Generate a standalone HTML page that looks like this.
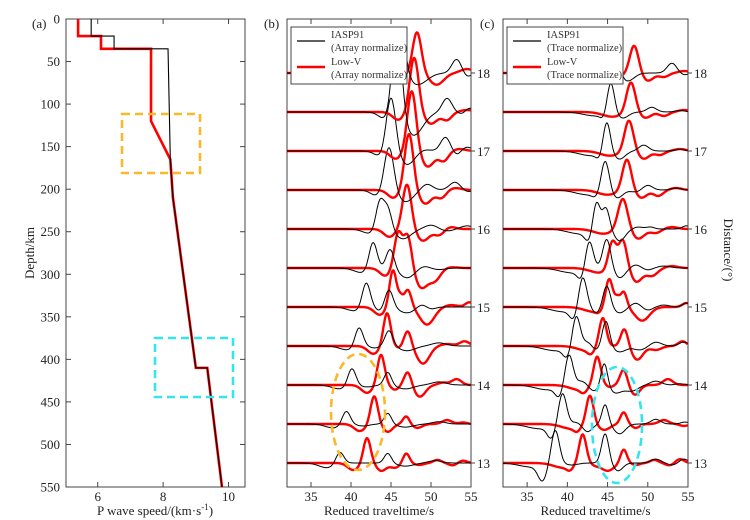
<!DOCTYPE html>
<html><head><meta charset="utf-8"><style>
html,body{margin:0;padding:0;background:#fff;}
svg{display:block;font-family:"Liberation Serif",serif;}
</style></head>
<body>
<svg id="fig" width="750" height="520" viewBox="0 0 750 520">
<rect width="750" height="520" fill="#fff"/>
<defs>
<clipPath id="clipB"><rect x="287" y="19" width="184" height="468"/></clipPath>
<clipPath id="clipC"><rect x="503" y="19" width="185" height="468"/></clipPath>
<clipPath id="clipA"><rect x="66" y="19" width="179" height="468"/></clipPath>
</defs>
<g id="panelA"></g>
<g id="panelB"></g>
<g id="panelC"></g>
</svg>
<script>
// ---- Panel (a) velocity model data ----
const iaspDepth = [0,20,20,35,35,165,210,410,410,550];
const iaspSpeed = [5.8,5.8,6.5,6.5,8.15,8.22,8.3,9.0,9.35,9.8];
const lowvDepth = [0,20,20,35,35,120,165,210,410,410,550];
const lowvSpeed = [5.4,5.4,6.1,6.1,7.63,7.63,8.22,8.3,9.0,9.35,9.8];
const depthTicks = [0,50,100,150,200,250,300,350,400,450,500,550];
const speedTicks = [6,8,10];

// ---- Waveform panels data: [time, amplitude, width] pulses ----
const distances = [13,13.5,14,14.5,15,15.5,16,16.5,17,17.5,18];
const distLabels = [13,14,15,16,17,18];
const timeTicks = [35,40,45,50,55];
const bBlack = [
 [[37,-0.12,1.0],[38.6,0.3,0.5],[44.6,0.25,0.45],[46.8,-0.08,1.0],[50.5,0.06,0.8]],
 [[37.8,-0.1,1.0],[39.4,0.35,0.5],[41.5,-0.05,0.8],[44.6,0.28,0.45],[46.8,-0.08,1.0],[51,0.06,0.8]],
 [[38.6,-0.1,1.0],[40.1,0.45,0.5],[42,-0.05,0.8],[44.6,0.33,0.45],[46.8,-0.1,1.0],[51,0.08,0.9]],
 [[39.6,-0.1,1.0],[41.0,0.5,0.5],[43,-0.05,0.6],[44.75,0.4,0.5],[47,-0.12,1.0],[51,0.08,0.9]],
 [[40.5,-0.1,1.0],[41.9,0.65,0.5],[43.6,-0.1,0.5],[44.75,0.45,0.5],[47,-0.15,1.0],[48.8,0.08,0.6],[50,-0.05,0.6]],
 [[41.4,-0.12,1.0],[42.75,0.7,0.5],[44.9,0.5,0.5],[47,-0.25,1.0],[49,0.06,0.7],[51,-0.04,0.8]],
 [[42.5,-0.12,1.0],[43.6,0.75,0.5],[44.6,0.55,0.5],[46.5,-0.25,1.0],[50,0.1,0.8],[52,-0.05,0.8],[54.5,0.08,0.8]],
 [[43.3,-0.15,0.8],[44.75,1.15,0.6],[46.8,-0.3,1.0],[49.5,0.15,0.7],[53,0.2,0.7],[54.5,-0.05,0.6]],
 [[43.8,-0.15,0.8],[45.0,1.45,0.6],[47,-0.35,1.0],[49,0.05,0.8],[51.8,0.35,0.6],[53.2,-0.1,0.5],[54.5,0.1,0.6]],
 [[44.3,-0.18,0.8],[45.75,2.3,0.6],[47.8,-0.6,1.2],[52,0.35,0.6],[53.8,-0.05,0.5],[54.8,0.1,0.5]],
 [[44.8,-0.15,0.8],[46.2,1.2,0.6],[48.3,-0.3,1.2],[53.2,0.35,0.6],[54.5,-0.1,0.5]]
];
const bRed = [
 [[40.3,-0.18,0.7],[42.0,0.65,0.45],[43.8,-0.2,0.6],[45.5,-0.12,0.6],[46.9,0.25,0.4],[48.5,-0.05,0.6],[50.8,0.08,0.5],[52.7,-0.06,0.5],[54,0.06,0.5]],
 [[41.1,-0.18,0.7],[42.9,0.72,0.45],[44.6,-0.2,0.6],[46.9,0.2,0.4],[48.3,-0.1,0.6],[52,0.1,0.6],[54,0.04,0.5]],
 [[42,-0.2,0.7],[43.75,0.78,0.45],[45.5,-0.12,0.5],[47.1,0.35,0.45],[48.6,-0.3,0.7],[51.5,0.06,0.6],[53.2,0.15,0.6]],
 [[42.8,-0.2,0.7],[44.5,0.85,0.45],[46,-0.05,0.4],[47.1,0.4,0.45],[49,-0.45,0.8],[52,0.05,0.8],[54.2,0.12,0.6]],
 [[43.6,-0.2,0.7],[45.25,0.95,0.45],[46.2,0.2,0.3],[47.1,0.45,0.45],[49.5,-0.45,0.9],[52.5,0.05,0.8],[54.8,0.12,0.5]],
 [[44.3,-0.2,0.7],[45.9,0.9,0.5],[47.1,0.85,0.5],[48.8,-0.5,0.8],[50.5,-0.3,0.7],[52.5,0.02,0.8]],
 [[44.8,-0.2,0.7],[47.0,1.15,0.55],[49,-0.3,0.8],[51,-0.15,0.6],[52.5,0.05,0.6]],
 [[45.3,-0.2,0.7],[47.25,1.45,0.55],[49.3,-0.35,0.8],[51.3,-0.2,0.6],[53,0.05,0.8]],
 [[45.6,-0.2,0.7],[47.6,1.55,0.55],[49.6,-0.4,0.8],[51.6,-0.25,0.6],[53.5,0.05,0.8]],
 [[45.9,-0.2,0.7],[47.9,1.4,0.55],[50,-0.3,0.8],[52,-0.2,0.6],[54.5,0.05,0.8]],
 [[46.3,-0.12,0.7],[48.25,1.05,0.55],[50.7,-0.3,0.9],[54.5,0.1,0.8]]
];
const cBlack = [
 [[35.5,-0.1,1.5],[36.9,-0.4,0.55],[38.5,0.85,0.5],[40.5,-0.05,0.8],[44.7,0.75,0.45],[46.3,-0.2,0.6],[51,0.1,0.6],[53,-0.05,0.5],[54.5,0.1,0.5]],
 [[36.5,-0.12,1.5],[38,-0.3,0.5],[39.4,0.8,0.5],[41.2,0.05,0.6],[42.5,-0.2,0.6],[44.7,0.5,0.4],[46.5,-0.25,0.7],[51,0.12,0.6],[54.6,0.05,0.5]],
 [[37.5,-0.12,1.5],[39,-0.25,0.5],[40.2,0.8,0.5],[41.8,0.1,0.6],[43.3,-0.15,0.6],[44.6,0.6,0.4],[46,-0.2,0.8],[48,-0.15,0.8],[51,0.1,0.7],[54,0.03,0.6]],
 [[38.5,-0.12,1.5],[40,-0.25,0.5],[41.1,0.8,0.5],[42.5,0.1,0.5],[43.6,-0.1,0.5],[44.8,0.65,0.45],[46.5,-0.15,0.8],[49,-0.1,0.8],[51,0.1,0.7],[54.5,0.1,0.6]],
 [[39.5,-0.12,1.5],[40.8,-0.25,0.5],[41.9,0.8,0.5],[43.6,-0.15,0.5],[44.9,0.55,0.45],[46.5,-0.15,0.7],[48.5,0.1,0.6],[50,-0.08,0.6],[52,0.05,0.7],[54.8,0.1,0.5]],
 [[40.5,-0.12,1.5],[41.8,-0.25,0.5],[42.7,0.75,0.5],[44.9,0.75,0.5],[46.5,-0.25,0.7],[48.5,0.08,0.6],[50,-0.05,0.6],[52,0.05,0.8]],
 [[41.5,-0.12,1.5],[42.7,-0.25,0.5],[43.6,0.75,0.45],[44.8,0.55,0.45],[46.5,-0.3,0.7],[48.8,0.05,0.6],[50.3,0.05,0.5],[54.8,0.08,0.5]],
 [[42.5,-0.12,1.5],[43.6,-0.1,0.5],[44.7,0.8,0.5],[46.2,-0.2,0.7],[48.5,-0.05,0.6],[50,0.12,0.6],[53.5,0.05,0.6]],
 [[43,-0.12,1.5],[44.0,-0.12,0.4],[44.9,0.8,0.45],[46.5,-0.2,0.7],[49.5,0.15,0.6],[54,0.04,0.6]],
 [[43.5,-0.1,1.5],[44.5,-0.1,0.4],[45.4,0.8,0.45],[46.9,-0.15,0.7],[50.5,0.12,0.6],[54,0.04,0.6]],
 [[44,-0.1,1.5],[46.0,0.8,0.45],[47.5,-0.2,0.8],[53,0.25,0.6],[54.5,-0.05,0.5]]
];
const cRed = [
 [[39.5,-0.12,1.2],[40.3,-0.1,0.4],[41.9,0.75,0.45],[43.4,-0.05,0.5],[45,-0.2,0.8],[47.0,0.35,0.4],[48.5,-0.05,0.5],[50.8,0.08,0.5],[52.7,-0.06,0.5],[54,0.1,0.5]],
 [[40.5,-0.12,1.2],[41.2,-0.1,0.4],[42.8,0.75,0.45],[44.6,-0.15,0.7],[47.0,0.3,0.4],[48.5,-0.1,0.5],[52,0.1,0.6],[54.5,-0.05,0.5]],
 [[41.5,-0.12,1.2],[42,-0.1,0.4],[43.7,0.75,0.45],[45.3,-0.05,0.4],[47.0,0.4,0.45],[48.4,-0.25,0.6],[52.5,0.15,0.6]],
 [[42.5,-0.12,1.2],[42.9,-0.1,0.4],[44.4,0.75,0.45],[45.9,0.0,0.4],[47.1,0.45,0.45],[48.7,-0.35,0.7],[51,-0.1,0.7],[54.3,0.12,0.5]],
 [[43.3,-0.12,1.2],[43.9,-0.05,0.4],[45.2,0.75,0.45],[46.2,0.2,0.3],[47.0,0.4,0.4],[49.3,-0.35,0.9],[54.8,0.1,0.5]],
 [[44,-0.12,1.2],[45.6,0.72,0.5],[46.9,0.72,0.5],[48.6,-0.35,0.7],[50.5,-0.2,0.7],[53,0.05,0.7]],
 [[44.5,-0.12,1.2],[46.9,0.8,0.6],[48.8,-0.25,0.8],[51,-0.1,0.6],[53,0.05,0.7]],
 [[45,-0.12,1.2],[47.4,0.8,0.55],[49.2,-0.2,0.7],[51.3,-0.15,0.6],[53.5,0.05,0.7]],
 [[45.3,-0.12,1.2],[47.65,0.8,0.55],[49.5,-0.2,0.7],[51.5,-0.1,0.6],[54,0.05,0.7]],
 [[45.6,-0.12,1.2],[47.9,0.78,0.55],[49.7,-0.15,0.7],[52,-0.1,0.6],[54.5,0.05,0.7]],
 [[45.9,-0.1,1.2],[48.3,0.72,0.55],[50,-0.2,0.7],[52,-0.1,0.6],[54.5,0.05,0.7]]
];

const NS='http://www.w3.org/2000/svg';
function mk(tag, attrs, parent, text){
  const e=document.createElementNS(NS,tag);
  for(const k in attrs) e.setAttribute(k, attrs[k]);
  if(text!==undefined) e.textContent=text;
  parent.appendChild(e); return e;
}
const AX='#444';

// ---------- Panel A ----------
(function(){
  const g=document.getElementById('panelA');
  const x0=66,x1=245,y0=19,y1=487;
  const sx=v=>x0+(v-5.03)*32.7;
  const sy=d=>y0+d*(y1-y0)/550;
  const frame=mk('rect',{x:x0,y:y0,width:x1-x0,height:y1-y0,fill:'none',stroke:AX,'stroke-width':1},g);
  
  
  depthTicks.forEach(d=>{
    const y=sy(d);
    mk('line',{x1:x0,y1:y,x2:x0+5,y2:y,stroke:AX},g);
    mk('line',{x1:x1,y1:y,x2:x1-5,y2:y,stroke:AX},g);
    const t=mk('text',{x:x0-6,y:y+4.5,'text-anchor':'end','font-size':13,fill:'#222'},g,String(d));
    
    
  });
  speedTicks.forEach(v=>{
    const x=sx(v);
    mk('line',{x1:x,y1:y1,x2:x,y2:y1-5,stroke:AX},g);
    mk('line',{x1:x,y1:y0,x2:x,y2:y0+5,stroke:AX},g);
    const t=mk('text',{x:x,y:y1+14,'text-anchor':'middle','font-size':13,fill:'#222'},g,String(v));
    
    
  });
  const cg=mk('g',{'clip-path':'url(#clipA)'},g);
  const pr=mk('polyline',{points:lowvDepth.map((d,i)=>sx(lowvSpeed[i])+','+sy(d)).join(' '),fill:'none',stroke:'#f00','stroke-width':2.6},cg);
  
  
  const pb=mk('polyline',{points:iaspDepth.map((d,i)=>sx(iaspSpeed[i])+','+sy(d)).join(' '),fill:'none',stroke:'#000','stroke-width':1.1},cg);
  
  
  const ob=mk('rect',{x:122,y:114,width:78,height:59,fill:'none',stroke:'#fbb829','stroke-width':2.6,'stroke-dasharray':'8,5'},g);
  
  
  const cb=mk('rect',{x:155,y:338,width:78,height:59,fill:'none',stroke:'#33e6ee','stroke-width':2.6,'stroke-dasharray':'8,5'},g);
  
  
  const pl=mk('text',{x:32,y:28,'font-size':13,fill:'#222'},g,'(a)');
  
  
  const yl=mk('text',{x:0,y:0,transform:'translate(34,253) rotate(-90)','text-anchor':'middle','font-size':13,fill:'#222'},g,'Depth/km');
  
  
  const xl=mk('text',{x:155,y:515,'text-anchor':'middle','font-size':13,fill:'#222'},g);
  xl.innerHTML='P wave speed/(km·s<tspan dy="-5" font-size="9">-1</tspan><tspan dy="5">)</tspan>';
  
  
})();

// ---------- Waveform panels ----------
function wavePanel(gid, x0, x1, black, red, normText, label, clip, ell){
  const g=document.getElementById(gid);
  const y0=19,y1=487,A=39;
  const sx=t=>x0+(t-32)*(x1-x0)/23;
  const by=d=>463-(d-13)*78;
  const frame=mk('rect',{x:x0,y:y0,width:x1-x0,height:y1-y0,fill:'none',stroke:AX},g);
  
  
  timeTicks.forEach(t=>{
    const x=sx(t);
    mk('line',{x1:x,y1:y1,x2:x,y2:y1-5,stroke:AX},g);
    mk('line',{x1:x,y1:y0,x2:x,y2:y0+5,stroke:AX},g);
    const tl=mk('text',{x:x,y:y1+14,'text-anchor':'middle','font-size':13,fill:'#222'},g,String(t));
    
    
  });
  distLabels.forEach(d=>{
    const y=by(d);
    mk('line',{x1:x1,y1:y,x2:x1+4,y2:y,stroke:AX},g);
    const tl=mk('text',{x:x1+6,y:y+5,'font-size':13,fill:'#222'},g,String(d));
    
    
  });
  const cg=mk('g',{'clip-path':'url(#'+clip+')'},g);
  function trace(pulses,d,col,w,name){
    const pts=[];
    for(let t=32;t<=55.01;t+=0.08){
      let v=0;
      pulses.forEach(p=>{const z=(t-p[0])/p[2]; v+=p[1]*Math.exp(-0.5*z*z);});
      pts.push(sx(t).toFixed(1)+','+(by(d)-A*v).toFixed(1));
    }
    const pl=mk('polyline',{points:pts.join(' '),fill:'none',stroke:col,'stroke-width':w,'stroke-linejoin':'round'},cg);
    
    
  }
  distances.forEach((d,i)=>{
    trace(red[i],d,'#f00',2.4,'low-v-trace');
    trace(black[i],d,'#000',1,'iasp91-trace');
  });
  const el=mk('ellipse',{cx:ell[0],cy:ell[1],rx:ell[2],ry:ell[3],fill:'none',stroke:ell[4],'stroke-width':2.6,'stroke-dasharray':'8,5'},g);
  
  
  // legend
  const lg=mk('g',{},g);
  
  
  const lx=x0+4;
  mk('rect',{x:lx,y:27,width:116,height:57,fill:'#fff',stroke:AX},lg);
  mk('line',{x1:lx+6,y1:41,x2:lx+34,y2:41,stroke:'#000','stroke-width':1.2},lg);
  mk('line',{x1:lx+6,y1:67,x2:lx+34,y2:67,stroke:'#f00','stroke-width':2.6},lg);
  const t1=mk('text',{x:lx+40,y:38,'font-size':10.5,fill:'#333'},lg,'IASP91');
  
  
  mk('text',{x:lx+40,y:51,'font-size':10.5,fill:'#333'},lg,normText);
  const t2=mk('text',{x:lx+40,y:65,'font-size':10.5,fill:'#333'},lg,'Low-V');
  
  
  mk('text',{x:lx+40,y:78,'font-size':10.5,fill:'#333'},lg,normText);
  const pl=mk('text',{x:x0-23,y:28,'font-size':13,fill:'#222'},g,label);
  
  
  const xt=mk('text',{x:(x0+x1)/2,y:515,'text-anchor':'middle','font-size':13,fill:'#222'},g,'Reduced traveltime/s');
  
  
}
wavePanel('panelB',287,471,bBlack,bRed,'(Array normalize)','(b)','clipB',[358,412,27,58,'#fbb829']);
wavePanel('panelC',503,688,cBlack,cRed,'(Trace normalize)','(c)','clipC',[617,425,25,58,'#33e6ee']);
(function(){
  const g=document.getElementById('panelC');
  const t=mk('text',{x:0,y:0,transform:'translate(724,250) rotate(90)','text-anchor':'middle','font-size':13,fill:'#222'},g,'Distance/(°)');
  
  
})();
</script>
</body></html>
